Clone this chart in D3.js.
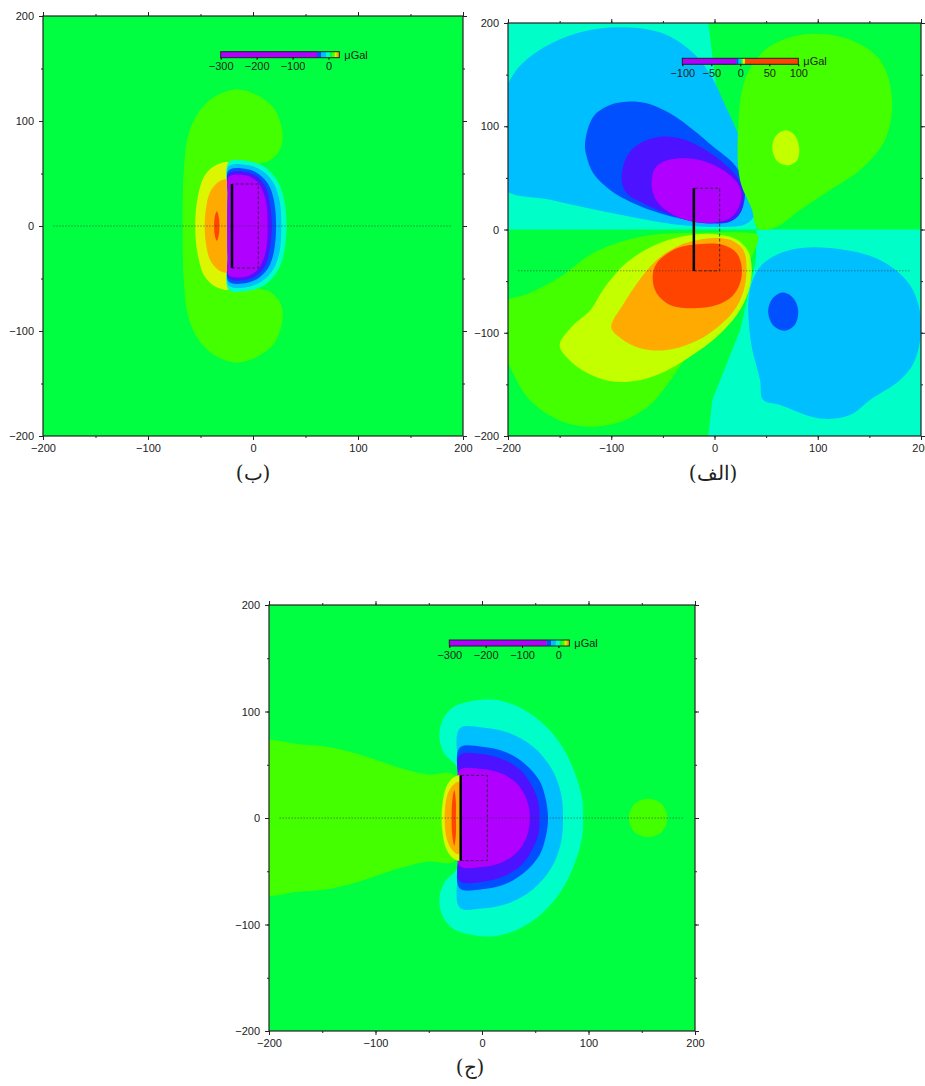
<!DOCTYPE html>
<html>
<head>
<meta charset="utf-8">
<script src="https://cdn.jsdelivr.net/npm/d3@7"></script>
<style>
  body { margin: 0; background: #fff; }
  svg text { font-family: "Liberation Sans", Arial, sans-serif; fill: #222; }
</style>
</head>
<body>
<svg id="chart" width="925" height="1086"></svg>
<script>
// ---- data (km / µGal) ----
const axisTicks = [-200, -100, 0, 100, 200];
const minorTicks = [-200, -150, -100, -50, 0, 50, 100, 150, 200];

const barTicksB = [-300, -200, -100, 0];
const barLevelsB = [-300, -32, -20, -7, 4, 10, 17, 23, 30];
const barColorsB = ["purple", "blue", "sky", "aqua", "green", "lime", "yellow", "orange"];

const barTicksA = [-100, -50, 0, 50, 100];
const barLevelsA = [-100, -7, -3, 1, 4, 8, 100];
const barColorsA = ["purple", "blue", "sky", "green", "yellow", "red"];

const barTicksC = [-300, -200, -100, 0];
const barLevelsC = [-300, -32, -20, -7, 4, 10, 17, 23, 30];
const barColorsC = ["purple", "blue", "sky", "aqua", "green", "lime", "yellow", "orange"];

// prism outline (solid edge + dashed box) and profile line
const prismEdge = [[-20, -40], [-20, 40]];
const prismBox = [[-20, -40], [5, -40], [5, 40], [-20, 40]];
const profileB = [[-190, 0], [190, 0]];
const profileA = [[-190, -40], [190, -40]];
const profileC = [[-190, 0], [190, 0]];

// panel (ب) contour regions
const bLime = [[-14,130],[5,124],[20,112],[27,95],[28,80],[24,70],[15,62],[5,58],[5,-58],[15,-62],[24,-70],[28,-80],[27,-95],[20,-112],[5,-124],[-14,-130],[-35,-124],[-52,-108],[-62,-85],[-66,-50],[-67,0],[-66,50],[-62,85],[-52,108],[-35,124]];
const bYellow = [[-22,60],[-35,58],[-46,48],[-53,25],[-55,0],[-53,-25],[-46,-48],[-35,-58],[-22,-60],[-21,-30],[-21,30]];
const bOrange = [[-24,44],[-33,42],[-41,32],[-45,15],[-46,0],[-45,-15],[-41,-32],[-33,-42],[-24,-44],[-23,-20],[-23,20]];
const bRed = [[-34.5,14],[-36.5,8],[-37,0],[-36.5,-8],[-34.5,-14],[-32.5,-8],[-32,0],[-32.5,8]];
const bAqua = [[-23,61],[-5,62],[10,57],[22,45],[29,28],[32,0],[29,-28],[22,-45],[10,-57],[-5,-62],[-23,-61],[-24,-30],[-24,30]];
const bSky = [[-23,57],[-5,58],[8,53],[19,42],[25,26],[27,0],[25,-26],[19,-42],[8,-53],[-5,-58],[-23,-57],[-24,-30],[-24,30]];
const bBlue = [[-23,53],[-5,54],[6,49],[15,39],[20,24],[22,0],[20,-24],[15,-39],[6,-49],[-5,-54],[-23,-53],[-24,-30],[-24,30]];
const bIndigo = [[-23,50],[-5,51],[5,46],[12,37],[16,22],[18,0],[16,-22],[12,-37],[5,-46],[-5,-51],[-23,-50],[-24,-30],[-24,30]];
const bPurple = [[-23,47],[-6,48],[3,43],[9,34],[13,20],[14,0],[13,-20],[9,-34],[3,-43],[-6,-48],[-23,-47],[-24,-30],[-24,30]];

// panel (الف) contour regions
const aGreenTop = [[41,0],[36,29],[23,77],[2,135],[-6,200],[-6,210],[210,210],[210,0]];
const aGreenBottom = [[41,0],[40,-30],[25,-97],[-2,-165],[-6,-200],[-6,-210],[-210,-210],[-210,0]];
const aSkyTop = [[-195,150],[-169,174],[-130,191],[-92,196],[-53,191],[-24,174],[-4,150],[10,121],[25,87],[36,53],[41,29],[39,14],[30,5],[0,2.5],[-40,5],[-80,12],[-120,20],[-160,29],[-205,40],[-212,100]];
const aBlueTop = [[-125.4,83.5],[-117.4,109.3],[-101.2,120.6],[-85,123.8],[-65.7,122.2],[-43.1,112.5],[-20.5,96.4],[-1.2,80.2],[18.2,64.1],[27.9,47.9],[29.5,31.8],[24.7,15.7],[15,7.6],[-4.4,6],[-26.9,9.2],[-52.8,15.7],[-78.6,25.4],[-101.2,38.3],[-117.4,54.4],[-123.8,70.5]];
const aIndigoTop = [[-89.9,47.9],[-85,70.5],[-72.2,83.5],[-52.8,89.9],[-33.4,88.3],[-14,80.2],[5.3,67.3],[21.5,51.1],[27.9,35.1],[26.3,18.9],[18.2,9.2],[2.1,6],[-20.5,7.6],[-46.3,15.7],[-69,25.4],[-85,35.1]];
const aPurpleTop = [[-60.8,47.9],[-57.6,59.3],[-49.6,65.7],[-33.4,69],[-14,67.3],[5.3,59.3],[19.9,47.9],[26.3,35.1],[23.1,20.5],[15,10.8],[-1.2,6.6],[-20.5,7.6],[-39.9,14],[-54.4,25.4],[-59.9,36.6]];
const aLimeTop = [[24.7,47.9],[22.8,96.4],[29.5,144.8],[48.9,173.8],[82.8,188.4],[126.4,185.5],[160.3,164.2],[171.9,125.4],[165.1,86.7],[140.9,57.6],[111.9,38.3],[82.8,18.9],[58.6,2],[42,1],[36,20]];
const aYellowTop = [[68,96],[77,92],[82,80],[80,67],[71,62],[61,66],[56,78],[59,90]];
const aLimeBottom = [[-52.8,-4.4],[-84.7,-10.2],[-117.7,-22.8],[-149.6,-46],[-180,-62],[-205,-72],[-206,-110],[-197,-135],[-179,-165],[-150,-185],[-121,-191],[-90,-186],[-65,-172],[-55,-162],[-42,-145],[-25,-120],[-5,-92],[12,-66],[27,-42],[38,-22],[42,-6],[30,-3],[0,-3],[-25,-3.5]];
const aYellowBottom = [[-150,-112],[-138,-94],[-120,-78],[-108,-58.6],[-85,-32],[-53,-13],[-21,-5],[5,-5],[22,-10],[33,-22],[36,-40],[33,-60],[22,-82],[2,-104],[-22,-122],[-47,-137],[-73,-146],[-100,-147],[-125,-138],[-142,-125]];
const aOrangeBottom = [[-100,-95],[-88,-72],[-75,-52],[-56,-29.5],[-33,-15],[-4,-8.5],[15,-10],[28,-20],[31,-39],[28,-60],[18,-80],[0,-97],[-22,-110],[-48,-117],[-72,-115],[-90,-106]];
const aRedBottom = [[-56,-32.7],[-36.6,-18.2],[-14,-14],[8.5,-15],[21.5,-23],[26.3,-36],[24.7,-52.1],[16.7,-65.1],[2.1,-73.1],[-20.5,-76.3],[-43.1,-73.1],[-56,-61.8],[-59.9,-47.3]];
const aSkyBottom = [[34,-60],[46,-34],[73.1,-19.9],[111.9,-17.9],[160.3,-29.5],[189.3,-53.8],[200,-87.7],[194.2,-126.4],[179.7,-145.8],[150.6,-165.1],[131.2,-179.7],[102,-183],[63.4,-170],[47,-165],[44.1,-145.8],[35,-107]];
const aBlueBottom = [[66,-61],[76,-66],[81,-78],[78,-92],[68,-98],[57,-93],[52,-80],[56,-67]];

// panel (ج) contour regions
const cLime = [[-215,69],[-170,69],[-140,66],[-110,58],[-80,48],[-52,41],[-25,40],[-25,-40],[-52,-41],[-80,-48],[-110,-58],[-140,-66],[-170,-69],[-215,-69]];
const cCircle = [[156,18],[169,13],[174,0],[169,-13],[156,-18],[143,-13],[138,0],[143,13]];
const cYellow = [[-21,40],[-28,37],[-34,28],[-37,14],[-38,0],[-37,-14],[-34,-28],[-28,-37],[-21,-40],[-20,-15],[-20,15]];
const cOrange = [[-22,34],[-28,30],[-33,20],[-35,0],[-33,-20],[-28,-30],[-22,-34],[-21,-10],[-21,10]];
const cRed = [[-26,26],[-28,15],[-28.5,0],[-28,-15],[-26,-26],[-24.5,-15],[-24.5,0],[-24.5,15]];
const cAqua = [[-22,45],[-35,60],[-40,75],[-37,92],[-27,104],[-8,110],[12,111],[35,104],[58,88],[76,66],[88,40],[94,18],[95,0],[94,-18],[88,-40],[76,-66],[58,-88],[35,-104],[12,-111],[-8,-110],[-27,-104],[-37,-92],[-40,-75],[-35,-60],[-22,-45]];
const cSky = [[-21,84],[0,85],[25,80],[48,67],[65,47],[74,24],[76,0],[74,-24],[65,-47],[48,-67],[25,-80],[0,-85],[-21,-84],[-22,-40],[-22,40]];
const cBlue = [[-21,66],[0,67],[22,62],[40,51],[54,35],[60,17],[62,0],[60,-17],[54,-35],[40,-51],[22,-62],[0,-67],[-21,-66],[-22,-30],[-22,30]];
const cIndigo = [[-21,59],[0,60],[20,55],[36,45],[47,30],[53,15],[54,0],[53,-15],[47,-30],[36,-45],[20,-55],[0,-60],[-21,-59],[-22,-30],[-22,30]];
const cPurple = [[-21,45],[0,46],[18,42],[31,34],[40,22],[44,10],[45,0],[44,-10],[40,-22],[31,-34],[18,-42],[0,-46],[-21,-45],[-22,-20],[-22,20]];

// ---- styles ----
const palette = {
  purple: "#b000ff", indigo: "#4d12ff", blue: "#0050ff", sky: "#00bfff", aqua: "#00ffc8",
  green: "#00ff40", lime: "#44ff00", yellowgreen: "#c4ff00", yellow: "#dcf500",
  orange: "#ffaa00", red: "#ff4400"
};

const svg = d3.select("#chart");
let clipId = 0;

function drawPanel(p) {
  const x = d3.scaleLinear().domain([-200, 200]).range([p.left, p.left + p.size]);
  const y = d3.scaleLinear().domain([-200, 200]).range([p.top + p.size, p.top]);
  const g = svg.append("g");
  const cid = "clip" + (clipId++);
  g.append("clipPath").attr("id", cid)
    .append("rect").attr("x", p.left).attr("y", p.top).attr("width", p.size).attr("height", p.size);
  const plot = g.append("g").attr("clip-path", `url(#${cid})`);
  plot.append("rect").attr("x", p.left).attr("y", p.top).attr("width", p.size).attr("height", p.size)
    .attr("fill", palette[p.bg]);

  const smooth = d3.line().x(d => x(d[0])).y(d => y(d[1])).curve(d3.curveCatmullRomClosed.alpha(0.5));
  const straight = d3.line().x(d => x(d[0])).y(d => y(d[1])).curve(d3.curveLinearClosed);
  p.layers.forEach(l => {
    plot.append("path")
      .attr("d", (l[2] ? straight : smooth)(l[1]))
      .attr("fill", palette[l[0]]);
  });

  const open = d3.line().x(d => x(d[0])).y(d => y(d[1]));
  plot.append("path").attr("d", open(p.profile))
    .attr("fill", "none").attr("stroke", "#333").attr("stroke-width", 0.8).attr("stroke-dasharray", "1,2");
  plot.append("path").attr("d", straight(prismBox))
    .attr("fill", "none").attr("stroke", "#222").attr("stroke-width", 0.8).attr("stroke-dasharray", "3,2");
  plot.append("path").attr("d", open(prismEdge))
    .attr("fill", "none").attr("stroke", "#000").attr("stroke-width", 2.5);

  // frame and ticks (GMT style: ticks on all four sides)
  g.append("rect").attr("x", p.left).attr("y", p.top).attr("width", p.size).attr("height", p.size)
    .attr("fill", "none").attr("stroke", "#222").attr("stroke-width", 1.2);
  g.append("g").attr("transform", `translate(0,${p.top + p.size})`)
    .call(d3.axisBottom(x).tickValues(minorTicks).tickSize(2).tickFormat(""));
  g.append("g").attr("transform", `translate(0,${p.top})`)
    .call(d3.axisTop(x).tickValues(minorTicks).tickSize(2).tickFormat(""));
  g.append("g").attr("transform", `translate(${p.left},0)`)
    .call(d3.axisLeft(y).tickValues(minorTicks).tickSize(2).tickFormat(""));
  g.append("g").attr("transform", `translate(${p.left + p.size},0)`)
    .call(d3.axisRight(y).tickValues(minorTicks).tickSize(2).tickFormat(""));
  const fmt = d => d < 0 ? "\u2212" + Math.abs(d) : String(d);
  g.append("g").attr("transform", `translate(0,${p.top + p.size})`)
    .call(d3.axisBottom(x).tickValues(axisTicks).tickSize(4).tickPadding(4).tickFormat(fmt));
  g.append("g").attr("transform", `translate(${p.left},0)`)
    .call(d3.axisLeft(y).tickValues(axisTicks).tickSize(4).tickPadding(5).tickFormat(fmt));
  g.append("g").attr("transform", `translate(0,${p.top})`)
    .call(d3.axisTop(x).tickValues(axisTicks).tickSize(4).tickFormat(""));
  g.append("g").attr("transform", `translate(${p.left + p.size},0)`)
    .call(d3.axisRight(y).tickValues(axisTicks).tickSize(4).tickFormat(""));
  g.selectAll(".domain").remove();
  g.selectAll(".tick line").attr("stroke", "#222").attr("stroke-width", 1);
  g.selectAll(".tick text").attr("font-size", 11).attr("fill", "#222")
    .attr("font-family", '"Liberation Sans", Arial, sans-serif');

  // colour bar
  const cb = p.bar;
  const bx = d3.scaleLinear().domain([cb.levels[0], cb.levels[cb.levels.length - 1]]).range([cb.x0, cb.x1]);
  const bg = svg.append("g");
  bg.selectAll("rect.seg").data(cb.colors).join("rect").attr("class", "seg")
    .attr("x", (d, i) => bx(cb.levels[i]))
    .attr("width", (d, i) => bx(cb.levels[i + 1]) - bx(cb.levels[i]))
    .attr("y", cb.y).attr("height", 6)
    .attr("fill", d => palette[d]);
  bg.append("rect").attr("x", cb.x0).attr("y", cb.y).attr("width", cb.x1 - cb.x0).attr("height", 6)
    .attr("fill", "none").attr("stroke", "#222").attr("stroke-width", 1);
  const ba = bg.append("g").attr("transform", `translate(0,${cb.y + 6})`)
    .call(d3.axisBottom(bx).tickValues(cb.ticks).tickSize(2).tickPadding(3).tickFormat(fmt));
  ba.select(".domain").remove();
  ba.selectAll("text").attr("font-size", 11).attr("fill", "#222");
  bg.append("text").attr("x", cb.x1 + 5).attr("y", cb.y + 7).attr("font-size", 11).text("\u03bcGal");

  svg.append("text").attr("x", p.labelX).attr("y", p.labelY)
    .attr("text-anchor", "middle").attr("font-size", 20)
    .style("font-family", '"DejaVu Serif", "Liberation Serif", serif')
    .text(p.label);
}

drawPanel({
  left: 43, top: 16, size: 420, bg: "green", profile: profileB,
  layers: [["lime", bLime], ["yellow", bYellow], ["orange", bOrange], ["red", bRed],
           ["aqua", bAqua], ["sky", bSky], ["blue", bBlue], ["indigo", bIndigo], ["purple", bPurple]],
  bar: { levels: barLevelsB, colors: barColorsB, ticks: barTicksB, x0: 220.7, x1: 339.3, y: 51.7 },
  label: "(ب)", labelX: 253, labelY: 480
});

drawPanel({
  left: 508, top: 23, size: 413, bg: "aqua", profile: profileA,
  layers: [["green", aGreenTop, true], ["green", aGreenBottom, true],
           ["sky", aSkyTop], ["blue", aBlueTop], ["indigo", aIndigoTop], ["purple", aPurpleTop],
           ["lime", aLimeTop], ["yellowgreen", aYellowTop],
           ["lime", aLimeBottom], ["yellowgreen", aYellowBottom], ["orange", aOrangeBottom], ["red", aRedBottom],
           ["sky", aSkyBottom], ["blue", aBlueBottom]],
  bar: { levels: barLevelsA, colors: barColorsA, ticks: barTicksA, x0: 682.3, x1: 798.3, y: 58.3 },
  label: "(الف)", labelX: 713, labelY: 480
});

drawPanel({
  left: 269, top: 605, size: 426, bg: "green", profile: profileC,
  layers: [["lime", cLime], ["lime", cCircle], ["aqua", cAqua], ["sky", cSky], ["blue", cBlue],
           ["indigo", cIndigo], ["purple", cPurple], ["yellow", cYellow], ["orange", cOrange], ["red", cRed]],
  bar: { levels: barLevelsC, colors: barColorsC, ticks: barTicksC, x0: 449.3, x1: 569.3, y: 640 },
  label: "(ج)", labelX: 470, labelY: 1074
});
</script>
</body>
</html>
